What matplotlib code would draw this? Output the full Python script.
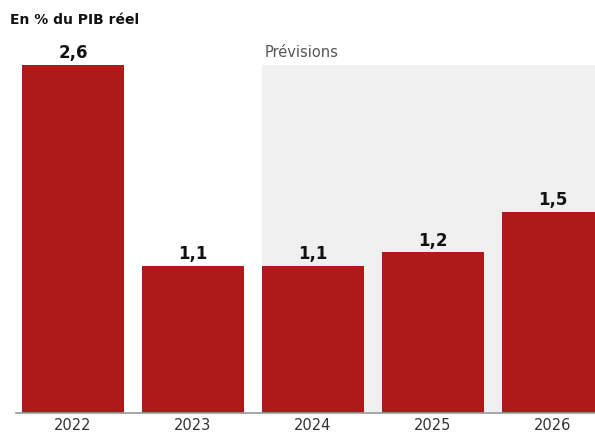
import matplotlib.pyplot as plt

years = ['2022', '2023', '2024', '2025', '2026']
growth = [2.6, 1.1, 1.1, 1.2, 1.5]
labels = ['2,6', '1,1', '1,1', '1,2', '1,5']
forecast_start = 2  # index of first forecast year

red = '#AE1A1A'
plt.rcParams['font.family'] = ['DejaVu Sans']

fig = plt.figure(figsize=(5.95, 4.32), dpi=100)
ax = fig.add_axes([0, 0, 1, 1])

x = list(range(len(years)))
w = 0.85

# shaded forecast area
ax.fill_between([forecast_start - w / 2, 10], 0, 2.6, color='#F0F0F0', zorder=0, linewidth=0)
ax.text(forecast_start - w / 2 + 0.02, 2.64, 'Prévisions', fontsize=10.5,
        color='#555555', ha='left', va='bottom')

ax.bar(x, growth, width=w, color=red, zorder=2)
for xi, v, lab in zip(x, growth, labels):
    ax.annotate(lab, (xi, v), xytext=(0, 2), textcoords='offset points',
                ha='center', va='bottom', fontsize=12, fontweight='bold', color='#111111')

for xi, yr in zip(x, years):
    ax.text(xi, -0.097, yr, ha='center', va='center', fontsize=10.5, color='#333333')

# baseline
ax.plot([-0.475, 10], [0, 0], color='#999999', linewidth=1.2, zorder=3)

fig.text(10 / 595, 1 - 20 / 432, 'En % du PIB réel', fontsize=10, fontweight='bold',
         ha='left', va='center', color='#111111')

ax.set_xlim(-0.608, 4.35)
ax.set_ylim(-0.142, 3.086)
ax.axis('off')

fig.savefig('out.png', dpi=100)
